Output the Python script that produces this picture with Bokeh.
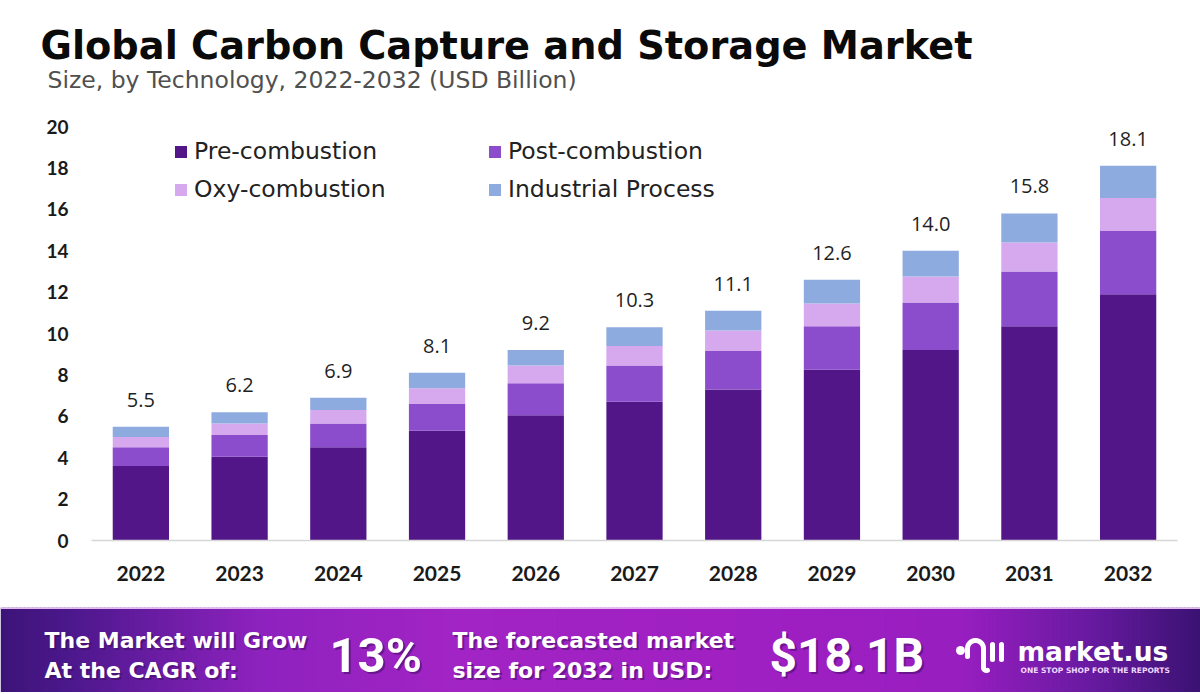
import numpy as np
from bokeh.plotting import figure
from bokeh.models import (ColumnDataSource, FactorRange, Range1d, Legend, LegendItem,
                          FixedTicker, Label)
from bokeh.layouts import column
from bokeh.core.properties import value
from bokeh.embed import file_html
from bokeh.resources import INLINE

# ---------------- data ----------------
years = ["2022", "2023", "2024", "2025", "2026", "2027", "2028", "2029", "2030", "2031", "2032"]
pre_combustion = [3.6, 4.05, 4.5, 5.3, 6.05, 6.7, 7.3, 8.25, 9.2, 10.35, 11.9]
post_combustion = [0.9, 1.05, 1.15, 1.3, 1.55, 1.75, 1.85, 2.1, 2.3, 2.65, 3.05]
oxy_combustion = [0.5, 0.55, 0.65, 0.75, 0.85, 0.95, 1.0, 1.1, 1.25, 1.4, 1.6]
industrial_process = [0.5, 0.55, 0.6, 0.75, 0.75, 0.9, 0.95, 1.15, 1.25, 1.4, 1.55]
total_labels = [5.5, 6.2, 6.9, 8.1, 9.2, 10.3, 11.1, 12.6, 14.0, 15.8, 18.1]
series_names = ["Pre-combustion", "Post-combustion", "Oxy-combustion", "Industrial Process"]
series_colors = ["#531689", "#8b4dcc", "#d6a9ef", "#8eabdf"]
y_ticks = [0, 2, 4, 6, 8, 10, 12, 14, 16, 18, 20]

title_text = "Global Carbon Capture and Storage Market"
subtitle_text = "Size, by Technology, 2022-2032 (USD Billion)"
cagr_lines = ["The Market will Grow", "At the CAGR of:"]
cagr_value = "13%"
forecast_lines = ["The forecasted market", "size for 2032 in USD:"]
forecast_value = "$18.1B"
brand = "market.us"
tagline = "ONE STOP SHOP FOR THE REPORTS"

W = 1200
H_TOP, H_CHART, H_BANNER = 108, 499, 85

# ---------------- header ----------------
top = figure(width=W, height=H_TOP, x_range=Range1d(0, W), y_range=Range1d(H_TOP, 0),
             x_axis_type=None, y_axis_type=None, min_border=0, output_backend="svg",
             toolbar_location=None, outline_line_color=None)
top.frame_align = False
top.xgrid.visible = False
top.ygrid.visible = False
top.add_layout(Label(x=40, y=45, text=title_text, text_font="DejaVu Sans", text_font_style="bold",
                     text_font_size="38.3px", text_color="#0a0a0a", text_baseline="middle"))
top.add_layout(Label(x=47, y=79, text=subtitle_text, text_font="DejaVu Sans",
                     text_font_size="23.5px", text_color="#505050", text_baseline="middle"))

# ---------------- chart ----------------
src = ColumnDataSource(dict(year=years, pre=pre_combustion, post=post_combustion,
                            oxy=oxy_combustion, ind=industrial_process,
                            total=total_labels, label=[f"{v:.1f}" for v in total_labels]))

chart = figure(width=W, height=H_CHART, x_range=FactorRange(*years, range_padding=0),
               y_range=Range1d(0, 20.87), output_backend="svg", toolbar_location=None,
               min_border_left=91, min_border_right=23, min_border_top=0, min_border_bottom=67,
               outline_line_color=None)
chart.frame_align = False
rs = chart.vbar_stack(["pre", "post", "oxy", "ind"], x="year", width=0.57,
                      fill_color=series_colors, line_color=None, source=src)
chart.text(x="year", y="total", text="label", source=src, text_align="center",
           text_baseline="middle", y_offset=-27, text_font=value("Open Sans"),
           text_font_size="20px", text_color="#1f1f1f")

chart.xgrid.visible = False
chart.ygrid.visible = False
chart.yaxis.ticker = FixedTicker(ticks=y_ticks)
chart.yaxis.axis_line_color = None
chart.yaxis.major_tick_line_color = None
chart.yaxis.minor_tick_line_color = None
chart.yaxis.major_label_standoff = 17
chart.yaxis.major_label_text_font = "Lato"
chart.yaxis.major_label_text_font_style = "bold"
chart.yaxis.major_label_text_font_size = "19px"
chart.yaxis.major_label_text_color = "#1a1a1a"
chart.xaxis.axis_line_color = "#d6d6d6"
chart.xaxis.axis_line_width = 1.5
chart.xaxis.major_tick_line_color = None
chart.xaxis.major_label_standoff = 19
chart.xaxis.major_label_text_font = "Lato"
chart.xaxis.major_label_text_font_style = "bold"
chart.xaxis.major_label_text_font_size = "21px"
chart.xaxis.major_label_text_color = "#1a1a1a"

legend = Legend(items=[LegendItem(label=n, renderers=[r]) for n, r in zip(series_names, rs)],
                orientation="horizontal", ncols=2, location=(82, 336),
                glyph_width=15, glyph_height=15, label_standoff=6, label_width=285,
                label_height=30, spacing=8, padding=0, margin=0,
                border_line_color=None, background_fill_alpha=0,
                label_text_font="DejaVu Sans", label_text_font_size="23.5px",
                label_text_color="#222222")
chart.add_layout(legend)

# ---------------- banner ----------------
banner = figure(width=W, height=H_BANNER, x_range=Range1d(0, W), y_range=Range1d(H_BANNER, 0),
                x_axis_type=None, y_axis_type=None, min_border=0, output_backend="svg",
                toolbar_location=None, outline_line_color=None)
banner.frame_align = False
banner.xgrid.visible = False
banner.ygrid.visible = False

stops_x = [0, 70, 260, 460, 720, 960, 1090, 1200]
stops_c = ["#3c1478", "#4c188c", "#8e22be", "#a224c4", "#a020c2", "#981ec0", "#681aa0", "#3a1272"]
def hex2rgb(h):
    return np.array([int(h[i:i + 2], 16) for i in (1, 3, 5)], dtype=float)
rgb = np.array([hex2rgb(c) for c in stops_c])
xs = np.arange(0, W, 4)
cols = []
for x in xs:
    r = [np.interp(x + 2, stops_x, rgb[:, k]) for k in range(3)]
    cols.append("#%02x%02x%02x" % tuple(int(round(v)) for v in r))
banner.quad(left=xs, right=xs + 4.5, top=0, bottom=H_BANNER, fill_color=cols, line_color=None)
banner.quad(left=[0], right=[W], top=[0], bottom=[1.5], fill_color="#e6b8f2", line_color=None)

def btext(x, y, t, size, font="DejaVu Sans", shadow=False):
    if shadow:
        banner.add_layout(Label(x=x + 2, y=y + 2, text=t, text_font=font, text_font_style="bold",
                                text_font_size=size, text_color="#3a0a5c", text_alpha=0.5,
                                text_baseline="middle"))
    banner.add_layout(Label(x=x, y=y, text=t, text_font=font, text_font_style="bold",
                            text_font_size=size, text_color="white", text_baseline="middle"))

btext(44, 33, cagr_lines[0], "22px", shadow=True)
btext(44, 63, cagr_lines[1], "22px", shadow=True)
btext(329, 48, cagr_value, "49px", font="Roboto", shadow=True)
btext(452, 33, forecast_lines[0], "22px", shadow=True)
btext(452, 63, forecast_lines[1], "22px", shadow=True)
btext(769, 48, forecast_value, "48px", font="Roboto", shadow=True)

# logo
banner.scatter(x=[960], y=[43], size=9, fill_color="white", line_color=None)
t = np.linspace(np.pi, 0, 30)
arch_x = np.concatenate([[967], 975 + 8 * np.cos(t), [983]])
arch_y = np.concatenate([[49], 41 - 8 * np.sin(t), [60]])
banner.line(arch_x, arch_y, line_color="white", line_width=5, line_cap="round")
t2 = np.linspace(np.pi, 1.6 * np.pi, 12)
banner.line(986 + 3 * np.cos(t2), 60 - 3 * np.sin(t2), line_color="white", line_width=5,
            line_cap="round")
banner.multi_line(xs=[[992, 992], [1001, 1001]], ys=[[37, 52], [37, 52]], line_color="white",
                  line_width=5, line_cap="round")
banner.add_layout(Label(x=1017, y=44, text=brand, text_font="DejaVu Sans", text_font_style="bold",
                        text_font_size="26.5px", text_color="white", text_baseline="middle"))
banner.add_layout(Label(x=1020, y=63, text=tagline, text_font="DejaVu Sans",
                        text_font_style="bold", text_font_size="7.5px", text_color="#f0d8ff",
                        text_baseline="middle"))

layout = column(top, chart, banner, spacing=0)
open("out.html", "w").write(file_html(layout, INLINE))
